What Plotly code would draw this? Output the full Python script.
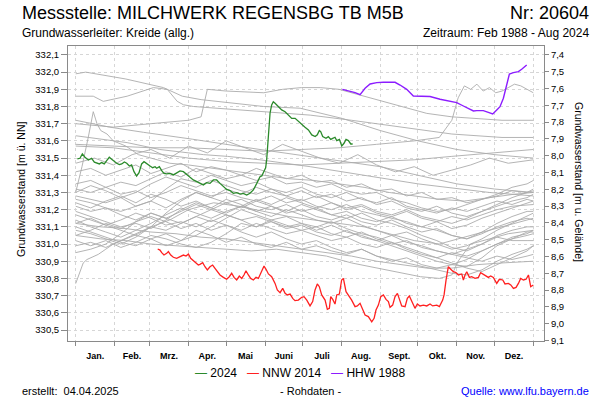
import plotly.graph_objects as go

# ---------------- data ----------------
MONTH_STARTS = [0, 31, 59, 90, 120, 151, 181, 212, 243, 273, 304, 334, 365]
MONTH_MIDS = [15.5, 45, 74.5, 105, 135.5, 166, 196.5, 227.5, 258, 288.5, 319, 349.5]
MONTH_LABELS = ["Jan.", "Feb.", "Mrz.", "Apr.", "Mai", "Juni", "Juli", "Aug.", "Sept.", "Okt.", "Nov.", "Dez."]

Y_TICKS = [330.5, 330.6, 330.7, 330.8, 330.9, 331.0, 331.1, 331.2, 331.3, 331.4,
           331.5, 331.6, 331.7, 331.8, 331.9, 332.0, 332.1]
Y2_TICKS = [7.4, 7.5, 7.6, 7.7, 7.8, 7.9, 8.0, 8.1, 8.2, 8.3, 8.4, 8.5, 8.6, 8.7, 8.8, 8.9, 9.0, 9.1]

# 2024 (green)
Y2024_DAYS = [1.3, 3.4, 5.3, 7.4, 10.1, 12.7, 14.9, 16.7, 18.9, 20.7, 22.8, 24.7, 26.8, 28.7, 30.8, 32.7,
              34.8, 36.7, 38.8, 40.7, 42.8, 44.6, 46.5, 48.6, 50.5, 52.6, 54.5, 56.6, 59.3, 61.4, 63.3,
              64.6, 66.7, 68.6, 70.4, 72.6, 75.2, 77.9, 80.5, 83.2, 85.9, 88.5, 91.2, 93.8, 96.5, 99.2,
              101.8, 104.5, 107.1, 109.8, 112.4, 115.1, 117.8, 120.4, 123.1, 125.7, 128.4, 131.1, 133.7,
              136.4, 139.0, 141.7, 144.4, 147.0, 148.4, 150.2, 151.5, 152.3, 153.7, 155.0, 156.3, 157.6,
              159.0, 161.7, 164.3, 167.0, 169.6, 172.3, 175.0, 177.6, 180.3, 182.9, 185.6, 188.3, 191.0,
              192.7, 194.3, 195.4, 197.0, 199.6, 201.5, 203.4, 205.0, 206.8, 208.2, 210.3, 212.2, 214.0,
              215.6, 217.5, 219.4, 220.9]
Y2024_VALS = [331.495, 331.499, 331.524, 331.505, 331.489, 331.499, 331.476, 331.470, 331.466, 331.474,
              331.466, 331.485, 331.505, 331.493, 331.479, 331.470, 331.462, 331.466, 331.477, 331.470,
              331.454, 331.460, 331.421, 331.396, 331.415, 331.466, 331.479, 331.466, 331.454, 331.444,
              331.450, 331.441, 331.450, 331.427, 331.411, 331.408, 331.411, 331.402, 331.411, 331.425,
              331.421, 331.402, 331.388, 331.373, 331.363, 331.353, 331.344, 331.357, 331.353, 331.373,
              331.373, 331.353, 331.334, 331.318, 331.311, 331.295, 331.299, 331.291, 331.295, 331.285,
              331.295, 331.315, 331.353, 331.392, 331.396, 331.421, 331.444, 331.489, 331.605, 331.761,
              331.809, 331.828, 331.819, 331.799, 331.780, 331.770, 331.751, 331.731, 331.731, 331.712,
              331.693, 331.679, 331.664, 331.635, 331.625, 331.635, 331.660, 331.654, 331.625, 331.615,
              331.625, 331.609, 331.615, 331.621, 331.602, 331.609, 331.571, 331.586, 331.609, 331.602,
              331.582, 331.582]

# NNW 2014 (red)
NNW_DAYS = [65.4, 67.2, 68.6, 70.4, 72.6, 73.9, 75.8, 77.9, 80.5, 83.2, 85.9, 88.0, 89.9, 91.7, 93.8, 96.0,
            97.8, 99.1, 101.3, 103.1, 105.0, 107.1, 109.2, 111.1, 113.0, 115.1, 117.8, 120.4, 122.5, 124.4,
            126.3, 128.4, 130.5, 132.4, 134.2, 135.8, 137.7, 139.6, 141.7, 143.8, 145.7, 147.0, 148.3,
            150.2, 151.8, 153.7, 156.3, 159.0, 160.8, 163.0, 165.1, 167.0, 168.8, 171.0, 173.1, 174.9,
            177.6, 180.3, 182.1, 184.3, 186.9, 189.0, 190.9, 192.7, 194.3, 196.2, 198.9, 200.7, 202.3,
            203.4, 205.0, 206.8, 208.2, 210.3, 212.1, 213.5, 215.6, 217.5, 220.1, 222.8, 224.6, 226.8,
            228.9, 230.8, 233.4, 236.1, 238.0, 239.5, 241.4, 243.3, 245.4, 247.5, 249.4, 250.7, 252.8,
            254.7, 256.6, 258.2, 260.0, 262.7, 264.5, 266.1, 268.0, 270.6, 272.5, 274.6, 277.3, 280.0,
            282.6, 284.7, 288.0, 290.1, 292.7, 293.8, 295.4, 297.2, 299.1, 301.2, 303.3, 305.2, 307.9,
            309.2, 310.5, 311.9, 314.0, 315.8, 318.5, 321.2, 323.0, 324.6, 326.5, 329.1, 331.0, 333.1,
            335.8, 337.9, 340.6, 342.4, 345.1, 347.0, 349.1, 351.2, 353.1, 354.9, 357.1, 359.2, 361.1,
            362.9, 365.0]
NNW_VALS = [330.971, 330.965, 330.950, 330.936, 330.946, 330.956, 330.936, 330.923, 330.917, 330.927,
            330.936, 330.930, 330.942, 330.917, 330.903, 330.888, 330.878, 330.882, 330.892, 330.868,
            330.849, 330.868, 330.878, 330.859, 330.839, 330.820, 330.806, 330.795, 330.810, 330.830,
            330.806, 330.791, 330.814, 330.800, 330.820, 330.845, 330.820, 330.800, 330.791, 330.806,
            330.800, 330.820, 330.849, 330.872, 330.853, 330.826, 330.810, 330.771, 330.733, 330.717,
            330.742, 330.713, 330.704, 330.709, 330.684, 330.671, 330.674, 330.690, 330.694, 330.674,
            330.640, 330.665, 330.733, 330.768, 330.752, 330.704, 330.674, 330.620, 330.626, 330.694,
            330.678, 330.651, 330.704, 330.709, 330.791, 330.800, 330.723, 330.704, 330.674, 330.636,
            330.640, 330.655, 330.616, 330.587, 330.578, 330.548, 330.568, 330.616, 330.645, 330.694,
            330.704, 330.678, 330.665, 330.632, 330.645, 330.694, 330.713, 330.674, 330.640, 330.636,
            330.684, 330.698, 330.665, 330.626, 330.651, 330.640, 330.645, 330.640, 330.651, 330.640,
            330.645, 330.636, 330.674, 330.704, 330.791, 330.868, 330.853, 330.839, 330.834, 330.820,
            330.826, 330.791, 330.820, 330.839, 330.806, 330.810, 330.800, 330.806, 330.834, 330.826,
            330.820, 330.806, 330.814, 330.806, 330.771, 330.795, 330.791, 330.768, 330.771, 330.762,
            330.742, 330.748, 330.771, 330.800, 330.791, 330.795, 330.820, 330.752, 330.762]

# HHW 1988 (purple)
HHW_DAYS = [212.7, 217.5, 222.8, 226.8, 230.8, 234.8, 240.1, 245.4, 254.7, 258.7, 264.0, 269.3, 274.6,
            282.6, 290.6, 298.6, 303.9, 309.2, 313.2, 317.2, 319.9, 325.1, 329.1, 332.6, 335.8, 338.4,
            341.1, 343.8, 345.9, 349.1, 353.1, 355.7, 359.7]
HHW_VALS = [331.900, 331.892, 331.881, 331.869, 331.906, 331.931, 331.939, 331.941, 331.941, 331.925,
            331.900, 331.861, 331.861, 331.858, 331.842, 331.830, 331.823, 331.803, 331.786, 331.774,
            331.776, 331.776, 331.766, 331.757, 331.780, 331.799, 331.848, 331.935, 331.989, 331.997,
            332.003, 332.017, 332.042]

# other years (grey) - sparse/smooth ones
G_S1_DAYS = [0, 8, 40, 70, 85, 100, 150, 179, 213, 243, 273, 304, 334, 365]
G_S1_VALS = [331.99, 332.00, 331.96, 331.91, 331.86, 331.84, 331.80, 331.79, 331.73, 331.66, 331.60, 331.55, 331.52, 331.50]
G_S2_DAYS = [0, 14, 22, 41, 62, 73, 81, 86, 94, 147, 187, 220, 260, 300, 340, 365]
G_S2_VALS = [331.86, 331.86, 331.83, 331.86, 331.91, 331.90, 331.83, 331.81, 331.80, 331.77, 331.75, 331.72, 331.68, 331.64, 331.62, 331.62]
G_S3_DAYS = [0, 30, 60, 90, 100, 105, 120, 150, 165, 180, 195, 210, 225, 240, 260, 280, 300, 320, 340, 365]
G_S3_VALS = [331.70, 331.68, 331.70, 331.72, 331.74, 331.90, 331.89, 331.88, 331.90, 331.91, 331.91, 331.90,
             331.87, 331.84, 331.80, 331.76, 331.74, 331.73, 331.72, 331.72]
G_S4_DAYS = [0, 30, 60, 90, 120, 150, 180, 210, 240, 270, 290, 300, 305, 310, 315, 320, 325, 330, 335, 340, 345, 350, 355, 365]
G_S4_VALS = [331.58, 331.57, 331.56, 331.56, 331.55, 331.54, 331.55, 331.56, 331.58, 331.60, 331.62, 331.72,
             331.85, 331.92, 331.90, 331.93, 331.89, 331.91, 331.88, 331.89, 331.91, 331.93, 331.92, 331.88]
G_S5_DAYS = [0, 27, 54, 93, 147, 187, 243, 273, 304, 334, 365]
G_S5_VALS = [331.72, 331.68, 331.65, 331.61, 331.55, 331.51, 331.45, 331.40, 331.35, 331.32, 331.30]
G_S6_DAYS = [0, 19, 41, 67, 102, 121, 147, 187, 230, 273, 330, 365]
G_S6_VALS = [331.63, 331.61, 331.59, 331.55, 331.52, 331.51, 331.49, 331.45, 331.40, 331.35, 331.30, 331.28]
G_S7_DAYS = [0, 30, 60, 90, 120, 150, 180, 210, 240, 270, 300, 330, 365]
G_S7_VALS = [331.57, 331.56, 331.53, 331.50, 331.48, 331.47, 331.46, 331.47, 331.48, 331.49, 331.51, 331.53, 331.55]
G_S8_DAYS = [0, 5, 10, 14, 17, 20, 25, 30, 40, 50, 60, 75, 90, 110, 130, 150, 170, 190, 210, 230, 250, 270, 290, 310, 330, 350, 365]
G_S8_VALS = [331.30, 331.45, 331.62, 331.77, 331.70, 331.66, 331.64, 331.60, 331.57, 331.52, 331.50, 331.47,
             331.46, 331.44, 331.42, 331.40, 331.38, 331.37, 331.35, 331.33, 331.30, 331.28, 331.26, 331.25,
             331.27, 331.29, 331.30]
G_S9_DAYS = [0, 3, 6, 9, 12, 18, 24, 30, 40, 50, 60, 75, 90, 110, 130, 150, 170, 190, 210, 230, 250, 270, 290, 310, 330, 350, 365]
G_S9_VALS = [330.77, 330.83, 330.89, 330.91, 330.92, 330.94, 330.97, 331.00, 331.03, 331.06, 331.10, 331.14,
             331.20, 331.24, 331.22, 331.19, 331.16, 331.14, 331.12, 331.10, 331.06, 331.02, 331.00, 331.04,
             331.08, 331.12, 331.15]
G_S10_DAYS = [0, 15, 30, 45, 60, 75, 90, 105, 120, 135, 150, 165, 180, 195, 210, 225, 240, 255, 270, 285, 300, 315, 330, 345, 365]
G_S10_VALS = [331.47, 331.50, 331.46, 331.52, 331.55, 331.50, 331.57, 331.53, 331.60, 331.56, 331.52, 331.58,
              331.54, 331.50, 331.47, 331.52, 331.46, 331.42, 331.45, 331.40, 331.43, 331.46, 331.50, 331.47, 331.49]
G_S11_DAYS = [0, 20, 40, 60, 80, 100, 120, 140, 160, 180, 200, 220, 240, 260, 275, 290, 300, 305, 315, 330, 345, 365]
G_S11_VALS = [331.05, 331.03, 331.02, 331.00, 330.99, 330.98, 330.97, 330.96, 330.97, 330.95, 330.93, 330.89,
              330.86, 330.83, 330.81, 330.80, 330.82, 330.90, 331.00, 331.03, 331.06, 331.08]
G_S12_DAYS = [0, 20, 40, 60, 80, 100, 120, 140, 160, 180, 200, 220, 240, 260, 280, 300, 320, 340, 365]
G_S12_VALS = [331.12, 331.10, 331.09, 331.07, 331.06, 331.04, 331.03, 331.01, 330.99, 330.97, 330.95, 330.93,
              330.90, 330.88, 330.86, 330.86, 330.88, 330.89, 330.90]

# other years (grey) - noisy ones on a common sampling grid
GRID_DAYS = [0, 12, 24, 36, 48, 60, 72, 84, 96, 108, 120, 132, 144, 156, 168, 180, 192, 204, 216, 228,
             240, 252, 264, 276, 288, 300, 312, 324, 336, 348, 360, 365]
G_N1 = [331.42, 331.44, 331.40, 331.43, 331.46, 331.41, 331.44, 331.47, 331.42, 331.45, 331.43, 331.40, 331.44, 331.41, 331.38, 331.40,
        331.36, 331.37, 331.33, 331.35, 331.31, 331.32, 331.28, 331.30, 331.26, 331.27, 331.24, 331.26, 331.28, 331.31, 331.30, 331.32]
G_N2 = [331.35, 331.37, 331.33, 331.36, 331.34, 331.38, 331.42, 331.39, 331.44, 331.41, 331.38, 331.40, 331.37, 331.39, 331.35, 331.36,
        331.33, 331.35, 331.31, 331.29, 331.30, 331.26, 331.24, 331.21, 331.19, 331.20, 331.23, 331.26, 331.29, 331.33, 331.35, 331.37]
G_N3 = [331.32, 331.30, 331.33, 331.29, 331.31, 331.27, 331.30, 331.34, 331.31, 331.28, 331.30, 331.27, 331.25, 331.28, 331.24, 331.26,
        331.22, 331.20, 331.23, 331.19, 331.17, 331.15, 331.13, 331.10, 331.08, 331.05, 331.03, 331.06, 331.10, 331.13, 331.15, 331.14]
G_N4 = [331.28, 331.26, 331.24, 331.27, 331.22, 331.25, 331.21, 331.26, 331.30, 331.27, 331.24, 331.26, 331.22, 331.20, 331.23, 331.19,
        331.21, 331.17, 331.15, 331.18, 331.14, 331.12, 331.09, 331.05, 331.02, 330.98, 330.96, 331.00, 331.05, 331.08, 331.10, 331.10]
G_N5 = [331.26, 331.24, 331.21, 331.19, 331.22, 331.25, 331.32, 331.38, 331.36, 331.40, 331.37, 331.34, 331.36, 331.32, 331.30, 331.33,
        331.29, 331.27, 331.30, 331.26, 331.24, 331.27, 331.22, 331.20, 331.18, 331.21, 331.19, 331.22, 331.25, 331.23, 331.26, 331.25]
G_N6 = [331.22, 331.19, 331.21, 331.17, 331.14, 331.18, 331.15, 331.12, 331.16, 331.20, 331.17, 331.14, 331.16, 331.13, 331.10, 331.12,
        331.08, 331.11, 331.07, 331.05, 331.02, 330.99, 330.96, 330.93, 330.90, 330.88, 330.87, 330.92, 330.99, 331.03, 331.07, 331.07]
G_N7 = [331.19, 331.16, 331.13, 331.10, 331.12, 331.09, 331.14, 331.20, 331.24, 331.21, 331.26, 331.23, 331.19, 331.22, 331.18, 331.20,
        331.16, 331.14, 331.17, 331.13, 331.11, 331.14, 331.10, 331.07, 331.09, 331.05, 331.03, 331.07, 331.12, 331.16, 331.19, 331.19]
G_N8 = [331.17, 331.14, 331.11, 331.08, 331.05, 331.03, 331.06, 331.02, 331.05, 331.10, 331.15, 331.20, 331.17, 331.14, 331.16, 331.12,
        331.10, 331.13, 331.09, 331.06, 331.04, 331.01, 330.98, 330.95, 330.92, 330.89, 330.86, 330.84, 330.88, 330.92, 330.96, 330.99]
G_N9 = [331.14, 331.10, 331.07, 331.04, 331.08, 331.12, 331.17, 331.21, 331.18, 331.15, 331.19, 331.22, 331.26, 331.23, 331.27, 331.24,
        331.21, 331.24, 331.20, 331.22, 331.18, 331.16, 331.19, 331.15, 331.13, 331.16, 331.14, 331.17, 331.20, 331.22, 331.23, 331.23]
G_N10 = [331.10, 331.07, 331.04, 331.01, 330.99, 331.03, 330.99, 331.02, 331.08, 331.05, 331.01, 331.04, 331.00, 330.98, 331.01, 330.97,
         330.99, 330.96, 330.94, 330.97, 330.93, 330.91, 330.89, 330.87, 330.85, 330.83, 330.82, 330.85, 330.90, 330.94, 330.97, 330.99]
G_N11 = [331.08, 331.06, 331.03, 331.00, 331.04, 331.10, 331.18, 331.25, 331.30, 331.27, 331.32, 331.29, 331.33, 331.30, 331.28, 331.31,
         331.27, 331.29, 331.25, 331.27, 331.23, 331.25, 331.21, 331.19, 331.22, 331.18, 331.16, 331.19, 331.22, 331.25, 331.27, 331.29]
G_N12 = [331.02, 330.99, 331.02, 330.98, 331.01, 331.05, 331.03, 331.00, 330.98, 331.01, 331.06, 331.12, 331.10, 331.14, 331.11, 331.08,
         331.10, 331.06, 331.04, 331.07, 331.03, 331.00, 331.02, 330.98, 330.96, 330.94, 330.97, 331.00, 331.04, 331.02, 331.02, 331.02]
G_N13 = [330.99, 331.01, 330.98, 331.02, 331.06, 331.10, 331.08, 331.12, 331.16, 331.13, 331.17, 331.14, 331.10, 331.13, 331.09, 331.11,
         331.07, 331.05, 331.08, 331.04, 331.02, 331.05, 331.01, 330.99, 330.96, 330.94, 330.92, 330.90, 330.93, 330.91, 330.93, 330.94]
G_N14 = [330.95, 330.97, 331.00, 331.06, 331.13, 331.18, 331.15, 331.19, 331.23, 331.20, 331.24, 331.21, 331.25, 331.22, 331.19, 331.23,
         331.20, 331.17, 331.19, 331.15, 331.13, 331.16, 331.12, 331.10, 331.13, 331.09, 331.11, 331.15, 331.18, 331.21, 331.24, 331.25]
G_N15 = [331.24, 331.21, 331.25, 331.28, 331.24, 331.29, 331.26, 331.22, 331.25, 331.21, 331.18, 331.22, 331.19, 331.16, 331.20, 331.17,
         331.14, 331.12, 331.15, 331.11, 331.08, 331.05, 331.07, 331.03, 331.00, 330.97, 330.99, 331.03, 331.08, 331.12, 331.16, 331.18]
G_N16 = [331.12, 331.15, 331.11, 331.14, 331.18, 331.15, 331.11, 331.13, 331.10, 331.14, 331.11, 331.08, 331.12, 331.09, 331.06, 331.08,
         331.05, 331.02, 331.04, 331.00, 330.98, 331.01, 330.97, 330.94, 330.92, 330.95, 330.93, 330.96, 331.00, 331.03, 331.05, 331.06]
G_N17 = [331.30, 331.34, 331.31, 331.27, 331.30, 331.35, 331.39, 331.36, 331.33, 331.37, 331.34, 331.31, 331.29, 331.32, 331.28, 331.25,
         331.28, 331.24, 331.21, 331.23, 331.19, 331.17, 331.20, 331.16, 331.14, 331.12, 331.15, 331.19, 331.23, 331.27, 331.30, 331.31]
G_N18 = [331.05, 331.08, 331.12, 331.09, 331.13, 331.16, 331.13, 331.09, 331.12, 331.08, 331.11, 331.07, 331.04, 331.07, 331.03, 331.00,
         331.02, 330.98, 330.95, 330.97, 330.93, 330.90, 330.92, 330.88, 330.86, 330.88, 330.91, 330.96, 331.00, 331.04, 331.06, 331.08]

SERIES_NAMES = ["2024", "NNW 2014", "HHW 1988"]
SERIES_COLORS = ["#2b8a2b", "#ff2020", "#8c1cff"]

# ---------------- layout helpers (pixel -> paper) ----------------
W, H = 600, 400
ML, MR, MT, MB = 68, 56, 46, 59
PW, PH = W - ML - MR, H - MT - MB


def px(x):
    return (x - ML) / PW


def py(y):
    return (H - MB - y) / PH


FONT = "Liberation Sans, Arial, sans-serif"
GREY = "#ababab"

fig = go.Figure()

sparse = [(G_S1_DAYS, G_S1_VALS), (G_S2_DAYS, G_S2_VALS), (G_S3_DAYS, G_S3_VALS), (G_S4_DAYS, G_S4_VALS),
          (G_S5_DAYS, G_S5_VALS), (G_S6_DAYS, G_S6_VALS), (G_S7_DAYS, G_S7_VALS), (G_S8_DAYS, G_S8_VALS),
          (G_S9_DAYS, G_S9_VALS), (G_S10_DAYS, G_S10_VALS), (G_S11_DAYS, G_S11_VALS), (G_S12_DAYS, G_S12_VALS)]
noisy = [G_N1, G_N2, G_N3, G_N4, G_N5, G_N6, G_N7, G_N8, G_N9, G_N10, G_N11, G_N12, G_N13, G_N14,
         G_N15, G_N16, G_N17, G_N18]

for d, v in sparse:
    fig.add_trace(go.Scatter(x=d, y=v, mode="lines", line=dict(color=GREY, width=0.9),
                             showlegend=False, hoverinfo="skip"))
for v in noisy:
    fig.add_trace(go.Scatter(x=GRID_DAYS, y=v, mode="lines", line=dict(color=GREY, width=0.9),
                             showlegend=False, hoverinfo="skip"))

fig.add_trace(go.Scatter(x=NNW_DAYS, y=NNW_VALS, mode="lines", name=SERIES_NAMES[1],
                         line=dict(color=SERIES_COLORS[1], width=1.3), showlegend=False))
fig.add_trace(go.Scatter(x=HHW_DAYS, y=HHW_VALS, mode="lines", name=SERIES_NAMES[2],
                         line=dict(color=SERIES_COLORS[2], width=1.4), showlegend=False))
fig.add_trace(go.Scatter(x=Y2024_DAYS, y=Y2024_VALS, mode="lines", name=SERIES_NAMES[0],
                         line=dict(color=SERIES_COLORS[0], width=1.3), showlegend=False))
# carrier for the right axis
fig.add_trace(go.Scatter(x=[], y=[], yaxis="y2", showlegend=False, hoverinfo="skip"))

AX = "#8a8a8a"
GRID = "#d6d6d6"

fig.update_layout(
    width=W, height=H,
    margin=dict(l=ML, r=MR, t=MT, b=MB, pad=0),
    paper_bgcolor="white", plot_bgcolor="white",
    separators=",.",
    font=dict(family=FONT, color="black"),
    showlegend=False,
    xaxis=dict(
        range=[-6.14, 373.5], showgrid=False, zeroline=False,
        tickmode="array", tickvals=MONTH_MIDS, ticktext=MONTH_LABELS,
        ticks="outside", ticklen=6, tickcolor="rgba(0,0,0,0)",
        tickfont=dict(family=FONT, size=9, weight="bold"),
        showline=True, linecolor=AX, linewidth=1, mirror=True,
        minor=dict(tickmode="array", tickvals=MONTH_STARTS, ticks="outside", ticklen=4,
                   tickcolor=AX, showgrid=True, gridcolor=GRID, griddash="3px,3px", gridwidth=1),
    ),
    yaxis=dict(
        range=[330.436, 332.152], tickmode="array", tickvals=Y_TICKS, tickformat=".1f",
        ticks="outside", ticklen=6, tickcolor=AX, tickfont=dict(family=FONT, size=9.5),
        showgrid=True, gridcolor=GRID, griddash="3px,3px", zeroline=False,
        showline=True, linecolor=AX, linewidth=1,
    ),
    yaxis2=dict(
        overlaying="y", side="right", range=[9.1025, 7.347],
        tickmode="array", tickvals=Y2_TICKS, tickformat=".1f",
        ticks="outside", ticklen=4, tickcolor=AX, tickfont=dict(family=FONT, size=9.5),
        showgrid=False, zeroline=False, showline=True, linecolor=AX, linewidth=1,
    ),
)

legend_html = "\u00a0\u00a0\u00a0".join(
    f"<span style='color:{c}'>—</span>\u00a0{n}" for n, c in zip(SERIES_NAMES, SERIES_COLORS))

texts = [
    dict(text="Messstelle: MILCHWERK REGENSBG TB M5B", x=px(20), y=py(13), xanchor="left", size=18),
    dict(text="Nr: 20604", x=px(591), y=py(13), xanchor="right", size=18),
    dict(text="Grundwasserleiter: Kreide (allg.)", x=px(20), y=py(33), xanchor="left", size=12),
    dict(text="Zeitraum: Feb 1988 - Aug 2024", x=px(591), y=py(33), xanchor="right", size=12),
    dict(text=legend_html, x=px(300), y=py(373), xanchor="center", size=12),
    dict(text="erstellt:\u00a0\u00a004.04.2025", x=px(20), y=py(391), xanchor="left", size=11),
    dict(text="- Rohdaten -", x=px(310), y=py(391), xanchor="center", size=11),
    dict(text="Quelle: www.lfu.bayern.de", x=px(591), y=py(391), xanchor="right", size=11, color="#0000ff"),
]
for t in texts:
    fig.add_annotation(text=t["text"], x=t["x"], y=t["y"], xref="paper", yref="paper",
                       xanchor=t["xanchor"], yanchor="middle", showarrow=False,
                       font=dict(family=FONT, size=t["size"], color=t.get("color", "black")))

fig.add_annotation(text="Grundwasserstand [m ü. NN]", x=px(21), y=py(190), xref="paper", yref="paper",
                   textangle=-90, showarrow=False, xanchor="center", yanchor="middle",
                   font=dict(family=FONT, size=10.5))
fig.add_annotation(text="Grundwasserstand [m u. Gelände]", x=px(579), y=py(182), xref="paper", yref="paper",
                   textangle=90, showarrow=False, xanchor="center", yanchor="middle",
                   font=dict(family=FONT, size=10.5))

fig.write_html("out.html", config={"displayModeBar": False},
               post_script="document.body.style.margin='0px';document.body.style.padding='0px';")
